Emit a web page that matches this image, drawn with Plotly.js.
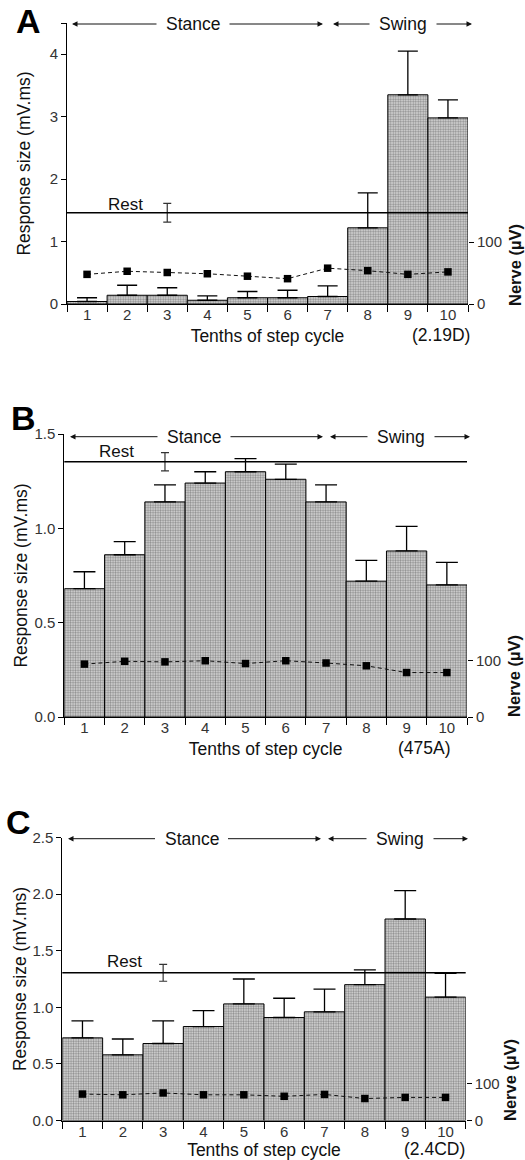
<!DOCTYPE html>
<html>
<head>
<meta charset="utf-8">
<script src="https://cdn.plot.ly/plotly-3.0.1.min.js"></script>
<style>
html,body{margin:0;padding:0;background:#fff;}
#chart{width:525px;height:1160px;}
</style>
</head>
<body>
<div id="chart"></div>
<script>
// ---------- DATA ----------
const tenths = [1, 2, 3, 4, 5, 6, 7, 8, 9, 10];
const tenthLabels = ['1','2','3','4','5','6','7','8','9','10'];

const respA = [0.04, 0.14, 0.14, 0.06, 0.10, 0.10, 0.12, 1.22, 3.35, 2.98];
const seA   = [0.06, 0.16, 0.12, 0.07, 0.10, 0.12, 0.17, 0.56, 0.70, 0.29];
const nerveA = [48, 53, 51, 49, 45, 41, 58, 54, 48, 52];
const restA = 1.46, restSeA = 0.15;

const respB = [0.68, 0.86, 1.14, 1.24, 1.30, 1.26, 1.14, 0.72, 0.88, 0.70];
const seB   = [0.09, 0.07, 0.09, 0.06, 0.07, 0.08, 0.09, 0.11, 0.13, 0.12];
const nerveB = [94, 99, 98, 100, 95, 100, 96, 91, 79, 79];
const restB = 1.353, restSeB = 0.048;

const respC = [0.73, 0.58, 0.68, 0.83, 1.03, 0.91, 0.96, 1.20, 1.78, 1.09];
const seC   = [0.15, 0.14, 0.20, 0.14, 0.22, 0.17, 0.20, 0.13, 0.25, 0.21];
const nerveC = [71, 69, 74, 69, 69, 65, 70, 59, 62, 62];
const restC = 1.305, restSeC = 0.075;

const restPos = 3;          // tenth at which the rest SE bar is drawn
const leftTicksA = [0, 1, 2, 3, 4, 4.5];
const leftTextA  = ['0', '1', '2', '3', '4', ''];
const leftTicksB = [0, 0.5, 1.0, 1.5];
const leftTextB  = ['0.0', '0.5', '1.0', '1.5'];
const leftTicksC = [0, 0.5, 1.0, 1.5, 2.0, 2.5];
const leftTextC  = ['0.0', '0.5', '1.0', '1.5', '2.0', '2.5'];
const rightTicks = [0, 100];
const panelIds = ['(2.19D)', '(475A)', '(2.4CD)'];

// ---------- LAYOUT HELPERS ----------
const W = 525, H = 1160;
const px = x => x / W;
const py = y => 1 - y / H;
const FONT = 'Liberation Sans, Arial, Helvetica, sans-serif';

const panels = [
  {letter:'A', resp:respA, se:seA, nerve:nerveA, rest:restA, restSe:restSeA,
   x0:67, x1:468, yTop:23, yBot:304, yMax:4.5, nMax:455,
   lt:leftTicksA, ltx:leftTextA, cap:10, id:panelIds[0], ytStand:14,
   letterPos:[28.5,20.5], arrowY:24, stance:[72,193,323], swing:[333,403,472],
   restLbl:[125,204], nerveLbl:[515,265], idPos:[472,335]},
  {letter:'B', resp:respB, se:seB, nerve:nerveB, rest:restB, restSe:restSeB,
   x0:64.3, x1:467, yTop:434, yBot:717, yMax:1.5, nMax:503,
   lt:leftTicksB, ltx:leftTextB, cap:11, id:panelIds[1], ytStand:2,
   letterPos:[23,418], arrowY:436.7, stance:[70,194,323], swing:[330,401,470],
   restLbl:[116,451.7], nerveLbl:[514,676], idPos:[453,748]},
  {letter:'C', resp:respC, se:seC, nerve:nerveC, rest:restC, restSe:restSeC,
   x0:62.3, x1:465.7, yTop:837.5, yBot:1120.5, yMax:2.5, nMax:760,
   lt:leftTicksC, ltx:leftTextC, cap:11, id:panelIds[2], ytStand:1,
   letterPos:[18.5,821.5], arrowY:838.7, stance:[68,191.5,321], swing:[328,400,468],
   restLbl:[124,961.7], nerveLbl:[510,1080], idPos:[467,1149]}
];

const traces = [];
const layout = {
  width: W, height: H,
  margin: {l:0, r:0, t:0, b:0},
  paper_bgcolor: '#fff', plot_bgcolor: 'rgba(0,0,0,0)',
  showlegend: false,
  font: {family: FONT, color: '#111', size: 15},
  bargap: 0,
  shapes: [], annotations: []
};

panels.forEach((p, i) => {
  const n = i + 1;
  const xa = n === 1 ? 'x' : 'x' + n;
  const ya = n === 1 ? 'y' : 'y' + n;
  const yr = 'y' + (n + 3);
  const xKey = n === 1 ? 'xaxis' : 'xaxis' + n;
  const yKey = n === 1 ? 'yaxis' : 'yaxis' + n;
  const yrKey = 'yaxis' + (n + 3);

  traces.push({
    type: 'bar', x: tenths, y: p.resp, xaxis: xa, yaxis: ya, width: 1,
    marker: {color: '#fff', line: {color: '#000', width: 1},
             pattern: {shape: '.', fgcolor: '#8c8c8c', bgcolor: '#dedede', size: 2.5, solidity: 0.5}},
    error_y: {type: 'data', symmetric: false, array: p.se, arrayminus: p.se.map(() => 0),
              color: '#000', thickness: 1.3, width: p.cap},
    hoverinfo: 'skip'
  });
  traces.push({
    type: 'scatter', mode: 'markers', x: [restPos], y: [p.rest], xaxis: xa, yaxis: ya,
    marker: {size: 1, color: 'rgba(0,0,0,0)'},
    error_y: {type: 'data', array: [p.restSe], color: '#333', thickness: 1.2, width: 4},
    hoverinfo: 'skip'
  });
  traces.push({
    type: 'scatter', mode: 'lines+markers', x: tenths, y: p.nerve, xaxis: xa, yaxis: yr,
    line: {color: '#111', width: 1, dash: '4px,3px'},
    marker: {symbol: 'square', size: 7.5, color: '#000'},
    cliponaxis: false, hoverinfo: 'skip'
  });

  layout[xKey] = {
    domain: [px(p.x0), px(p.x1)], anchor: ya, range: [0.5, 10.5], fixedrange: true,
    tickmode: 'array', tickvals: tenths, ticktext: tenthLabels, ticks: '',
    ticklabelstandoff: -3,
    tickfont: {family: FONT, size: 15, color: '#333'},
    showline: true, linecolor: '#000', linewidth: 1, showgrid: false, zeroline: false,
    minor: {ticks: 'outside', ticklen: 7, tickwidth: 1, tickcolor: '#000',
            tickmode: 'linear', tick0: 0.5, dtick: 1, showgrid: false},
    title: {text: 'Tenths of step cycle', font: {family: FONT, size: 17.5, color: '#111'}, standoff: 7}
  };
  layout[yKey] = {
    domain: [py(p.yBot), py(p.yTop)], anchor: xa, range: [0, p.yMax], fixedrange: true,
    tickmode: 'array', tickvals: p.lt, ticktext: p.ltx, ticks: 'outside', ticklen: 5,
    tickcolor: '#000', tickwidth: 1, ticklabelstandoff: 0,
    tickfont: {family: FONT, size: 15, color: '#333'},
    showline: true, linecolor: '#000', linewidth: 1, showgrid: false, zeroline: false,
    title: {text: 'Response size (mV.ms)', font: {family: FONT, size: 17.5, color: '#111'}, standoff: p.ytStand}
  };
  layout[yrKey] = {
    overlaying: ya, side: 'right', anchor: xa, range: [0, p.nMax], fixedrange: true,
    tickmode: 'array', tickvals: rightTicks, ticks: 'outside', ticklen: 5,
    tickcolor: '#000', tickwidth: 1, ticklabelstandoff: 0,
    tickfont: {family: FONT, size: 15, color: '#333'},
    showline: false, showgrid: false, zeroline: false
  };

  // rest line
  layout.shapes.push({type: 'line', xref: xa + ' domain', yref: ya, x0: 0, x1: 1,
                      y0: p.rest, y1: p.rest, line: {color: '#000', width: 1.5}});

  const A = layout.annotations;
  // panel letter
  A.push({xref: 'paper', yref: 'paper', x: px(p.letterPos[0]), y: py(p.letterPos[1]),
          text: '<b>' + p.letter + '</b>', showarrow: false, xanchor: 'center', yanchor: 'middle',
          font: {family: FONT, size: 34, color: '#000'}});
  // Rest label
  A.push({xref: 'paper', yref: 'paper', x: px(p.restLbl[0]), y: py(p.restLbl[1]),
          text: 'Rest', showarrow: false, xanchor: 'center', yanchor: 'middle',
          font: {family: FONT, size: 17, color: '#111'}});
  // Nerve title
  A.push({xref: 'paper', yref: 'paper', x: px(p.nerveLbl[0]), y: py(p.nerveLbl[1]),
          text: '<b>Nerve (µV)</b>', textangle: -90, showarrow: false, xanchor: 'center', yanchor: 'middle',
          font: {family: FONT, size: 16.5, color: '#111'}});
  // case id
  A.push({xref: 'paper', yref: 'paper', x: px(p.idPos[0]), y: py(p.idPos[1]),
          text: p.id, showarrow: false, xanchor: 'right', yanchor: 'middle',
          font: {family: FONT, size: 17.5, color: '#111'}});
  // Stance / Swing labels with arrows
  const phase = (label, seg, halfW) => {
    const [l, c, r] = seg;
    A.push({xref: 'paper', yref: 'paper', x: px(c), y: py(p.arrowY), text: label, showarrow: false,
            xanchor: 'center', yanchor: 'middle', font: {family: FONT, size: 17.5, color: '#111'}});
    const tailL = c - halfW - 8, tailR = c + halfW + 8;
    A.push({xref: 'paper', yref: 'paper', x: px(l), y: py(p.arrowY), ax: tailL - l, ay: 0,
            text: '', showarrow: true, arrowhead: 2, arrowsize: 1.1, arrowwidth: 1, arrowcolor: '#111'});
    A.push({xref: 'paper', yref: 'paper', x: px(r), y: py(p.arrowY), ax: tailR - r, ay: 0,
            text: '', showarrow: true, arrowhead: 2, arrowsize: 1.1, arrowwidth: 1, arrowcolor: '#111'});
  };
  phase('Stance', p.stance, 27);
  phase('Swing', p.swing, 24);
});

Plotly.newPlot('chart', traces, layout, {staticPlot: true, displayModeBar: false});
</script>
</body>
</html>
